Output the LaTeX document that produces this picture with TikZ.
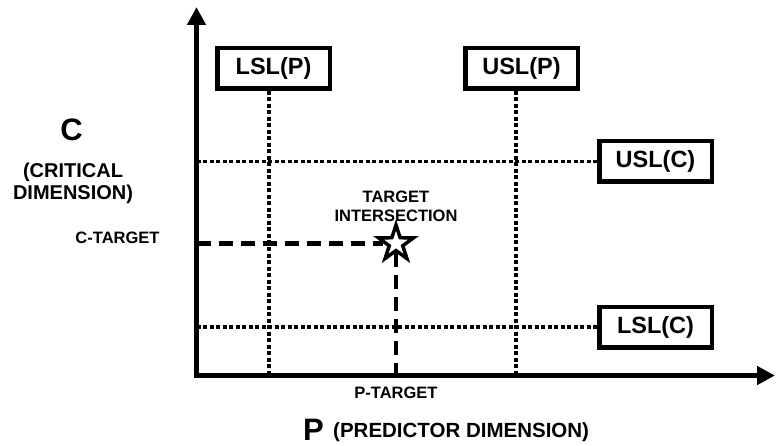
\documentclass[tikz,border=0pt]{standalone}
\usepackage{fontspec}
\setmainfont{Liberation Sans}
\usetikzlibrary{arrows.meta,shapes.geometric}
\tikzset{
  limbox/.style={draw, line width=4.5pt, inner sep=0pt, minimum width=112.5pt, minimum height=40.5pt, font=\fontsize{23.5}{26}\selectfont\bfseries},
  specline/.style={line width=3.5pt, dash pattern=on 4pt off 2.5pt},
  tgtline/.style={line width=4.5pt, dash pattern=on 14pt off 8pt},
  smalllbl/.style={font=\fontsize{16.5}{19}\selectfont\bfseries, inner sep=0pt},
  biglbl/.style={font=\fontsize{31}{34}\selectfont\bfseries, inner sep=0pt}
}
\begin{document}
\begin{tikzpicture}[x=1pt, y=1pt, >={Triangle[length=18pt,width=18pt]}, line join=miter]
	\useasboundingbox (0,0) rectangle (776,445);
	%axes
	\coordinate (o) at (196.5,69.5);
	\coordinate (ytip) at (196.5,438);
	\coordinate (xtip) at (775,69.5);
	\draw[<->, line width=5pt] (ytip)--(o)--(xtip);
	%limits
	\node[limbox] (lslp) at (273.5,376.5) {LSL(P)};
	\node[limbox] (uslp) at (521.5,376.5) {USL(P)};
	\node[limbox] (uslc) at (655.5,283.5) {USL(C)};
	\node[limbox] (lslc) at (655.5,118) {LSL(C)};
	\coordinate (pl) at (269,0); \coordinate (pu) at (516,0);
	\draw[specline] (lslp.south -| pl)--(o -| pl);
	\draw[specline] (uslp.south -| pu)--(o -| pu);
	\draw[specline] (o |- uslc.west)--(uslc.west);
	\draw[specline] (o |- lslc.west)--(lslc.west);
	%target
	\node[star, star points=5, star point ratio=2.6, draw, line width=3.5pt, minimum size=37pt, inner sep=0pt] (tgt) at (396,201.5) {};
	\draw[tgtline] (o |- tgt.west)--(tgt.west);
	\draw[tgtline] (tgt.south)--(tgt.south |- o);
	\node[smalllbl, align=center] (tint) at (396,238.3) {TARGET\\INTERSECTION};
	\node[smalllbl, anchor=base] (ctgt) at (117.5,202) {C-TARGET};
	\node[smalllbl, anchor=base] (ptgt) at (396,47) {P-TARGET};
	%axis names
	\node[biglbl, anchor=base] (cdim) at (71.5,304) {C};
	\node[font=\fontsize{20}{22}\selectfont\bfseries, align=center, inner sep=0pt] (cname) at (73,261.5) {(CRITICAL\\DIMENSION)};
	\node[biglbl, anchor=base] (pdim) at (313.5,5) {P};
	\node[font=\fontsize{20.5}{23}\selectfont\bfseries, anchor=base west, inner sep=0pt] (pname) at (333,8) {(PREDICTOR DIMENSION)};
\end{tikzpicture}
\end{document}
